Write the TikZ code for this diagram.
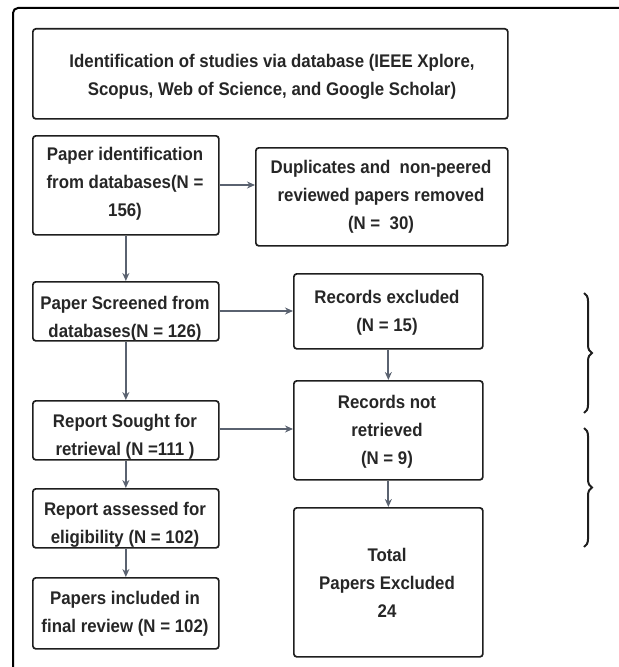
\documentclass[tikz,border=0pt]{standalone}
\usepackage{fontspec}
\setmainfont[FakeStretch=0.92]{Liberation Sans}
\usetikzlibrary{arrows.meta,decorations.pathreplacing}
\definecolor{txt}{HTML}{262626}
\definecolor{edge}{HTML}{1E1E1E}
\definecolor{conn}{HTML}{5A6270}
\begin{document}
\begin{tikzpicture}[x=1bp,y=-1bp,
  boxst/.style={draw=edge,line width=1.7bp,rounded corners=3bp,inner sep=0pt,anchor=north west},
  lbl/.style={text=txt,font=\fontsize{18.3bp}{28bp}\selectfont\bfseries,align=center,inner sep=0pt},
  conn/.style={draw=conn,line width=1.8bp,-{Stealth[length=8bp,width=7bp]}},
  bracest/.style={draw=edge,line width=2bp,decorate,decoration={brace,amplitude=8bp}}]
\useasboundingbox (0,0) rectangle (619,667);
% outer frame
\draw[line width=2bp,rounded corners=5bp] (13,668) -- (13,8) -- (625,8);
% boxes
\node[boxst,minimum width=475bp,minimum height=90bp] (b0) at (32,28) {};
\node[boxst,minimum width=186bp,minimum height=99bp] (b1) at (32,135) {};
\node[boxst,minimum width=252bp,minimum height=98bp] (b2) at (255,147) {};
\node[boxst,minimum width=186bp,minimum height=59bp] (b3) at (32,281) {};
\node[boxst,minimum width=189bp,minimum height=75bp] (b4) at (293,273) {};
\node[boxst,minimum width=189bp,minimum height=99bp] (b5) at (293,380) {};
\node[boxst,minimum width=186bp,minimum height=59bp] (b6) at (32,400) {};
\node[boxst,minimum width=186bp,minimum height=59bp] (b7) at (32,488) {};
\node[boxst,minimum width=186bp,minimum height=71bp] (b8) at (32,577) {};
\node[boxst,minimum width=189bp,minimum height=149bp] (b9) at (293,507) {};
% texts
\node[lbl] (t0) at (272,77) {Identification of studies via database (IEEE Xplore,\\Scopus, Web of Science, and Google Scholar)};
\node[lbl] (t1) at (125,184) {Paper identification\\from databases(N =\\156)};
\node[lbl] (t2) at (381,197) {Duplicates and\ \ non-peered\\reviewed papers removed\\(N =\ \ 30)};
\node[lbl] (t3) at (125,318.5) {Paper Screened from\\databases(N = 126)};
\node[lbl] (t4) at (387,312.5) {Records excluded\\(N = 15)};
\node[lbl] (t5) at (387,432) {Records not\\retrieved\\(N = 9)};
\node[lbl] (t6) at (125,437) {Report Sought for\\retrieval (N =111 )};
\node[lbl] (t7) at (125,525) {Report assessed for\\eligibility (N = 102)};
\node[lbl] (t8) at (125,614) {Papers included in\\final review (N = 102)};
\node[lbl] (t9) at (387,583) {Total\\Papers Excluded\\24};
% connectors
\draw[conn] (b1.east |- 0,185) -- (b2.west |- 0,185);
\draw[conn] (b1.south) -- (b3.north);
\draw[conn] (b3.east |- 0,311) -- (b4.west |- 0,311);
\draw[conn] (b3.south) -- (b6.north);
\draw[conn] (b6.east |- 0,429) -- (b5.west |- 0,429);
\draw[conn] (b6.south) -- (b7.north);
\draw[conn] (b7.south) -- (b8.north);
\draw[conn] (b4.south) -- (b5.north);
\draw[conn] (b5.south) -- (b9.north);
% braces
\coordinate (br1a) at (584,293);
\coordinate (br1b) at (584,413);
\coordinate (br2a) at (584,428);
\coordinate (br2b) at (584,547);
\draw[bracest] (br1a) -- (br1b);
\draw[bracest] (br2a) -- (br2b);
\end{tikzpicture}
\end{document}
